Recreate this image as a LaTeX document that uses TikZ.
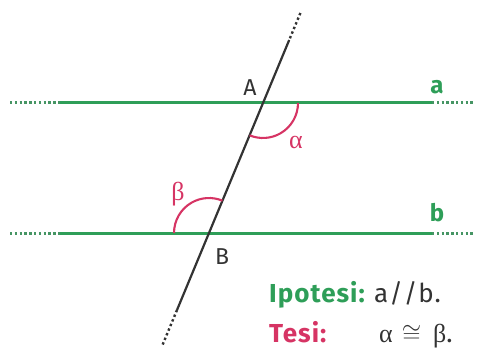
\documentclass[tikz,border=0pt]{standalone}
\usepackage{fontspec}
\setmainfont{Fira Sans}
\newfontfamily\grk{Liberation Serif}
\newfontfamily\wideb[LetterSpace=4]{Fira Sans}
\usetikzlibrary{calc}
\definecolor{lgreen}{RGB}{46,158,88}
\definecolor{lred}{RGB}{214,52,100}
\definecolor{lgray}{RGB}{51,51,51}
\begin{document}
\begin{tikzpicture}[x=1pt,y=1pt,
  parline/.style={lgreen,line width=3pt},
  pardots/.style={lgreen!70!gray,line width=3pt,dash pattern=on 2.4pt off 2.4pt},
  trans/.style={lgray,line width=2.2pt},
  transdots/.style={lgray,line width=2.4pt,dash pattern=on 2.4pt off 2.6pt},
  anglearc/.style={lred,line width=2.1pt},
  ptlabel/.style={lgray,font=\fontsize{23}{25}\selectfont,inner sep=0pt},
  linelabel/.style={lgreen,font=\bfseries\fontsize{24}{26}\selectfont,inner sep=0pt},
  anglabel/.style={lred,font=\grk\fontsize{26}{28}\selectfont,inner sep=0pt},
  txt/.style={font=\wideb\fontsize{26}{28}\selectfont,inner sep=0pt,anchor=base west}]
\useasboundingbox (0,0) rectangle (478,351);
% points
\coordinate (A) at (263,248);
\coordinate (B) at (209,118);
\coordinate (aL) at (10,248);
\coordinate (aLs) at (60,248);
\coordinate (aRs) at (432,248);
\coordinate (aR) at (475,248);
\coordinate (bL) at (10,118);
\coordinate (bLs) at (60,118);
\coordinate (bRs) at (432,118);
\coordinate (bR) at (475,118);
\coordinate (tT) at (300.4,338);
\coordinate (tTs) at (289.2,311);
\coordinate (tBs) at (177,41);
\coordinate (tB) at (162.5,6);
% parallel lines
\draw[pardots] (aL) -- (aLs);
\draw[parline] (aLs) -- (aRs);
\draw[pardots] (aRs) -- (aR);
\draw[pardots] (bL) -- (bLs);
\draw[parline] (bLs) -- (bRs);
\draw[pardots] (bRs) -- (bR);
% transversal
\draw[transdots] (tT) -- (tTs);
\draw[trans] (tTs) -- (tBs);
\draw[transdots] (tBs) -- (tB);
% angles
\draw[anglearc] ($(A)+(35,0)$) arc[start angle=0,end angle=-112.56,radius=35];
\draw[anglearc] ($(B)+(-35,0)$) arc[start angle=180,end angle=67.44,radius=35];
% labels
\node[ptlabel] (lA) at (250,263) {A};
\node[ptlabel] (lB) at (222,94) {B};
\node[linelabel] (la) at (437,264) {a};
\node[linelabel] (lb) at (437,138) {b};
\node[anglabel] (lal) at (296,209) {α};
\node[anglabel] (lbe) at (178,157) {β};
% hypothesis and thesis
\node[txt,lgreen] (ip) at (269,49) {\bfseries Ipotesi:};
\node[txt,lgray] (ab) at (374,49) {a/\kern1pt/b.};
\node[txt,lred] (te) at (269,9) {\bfseries Tesi:};
\node[txt,lgray] (ths) at (379,9) {{\grk α}\hspace{9pt}$\cong$\hspace{12pt}{\grk β}.};
\end{tikzpicture}
\end{document}
